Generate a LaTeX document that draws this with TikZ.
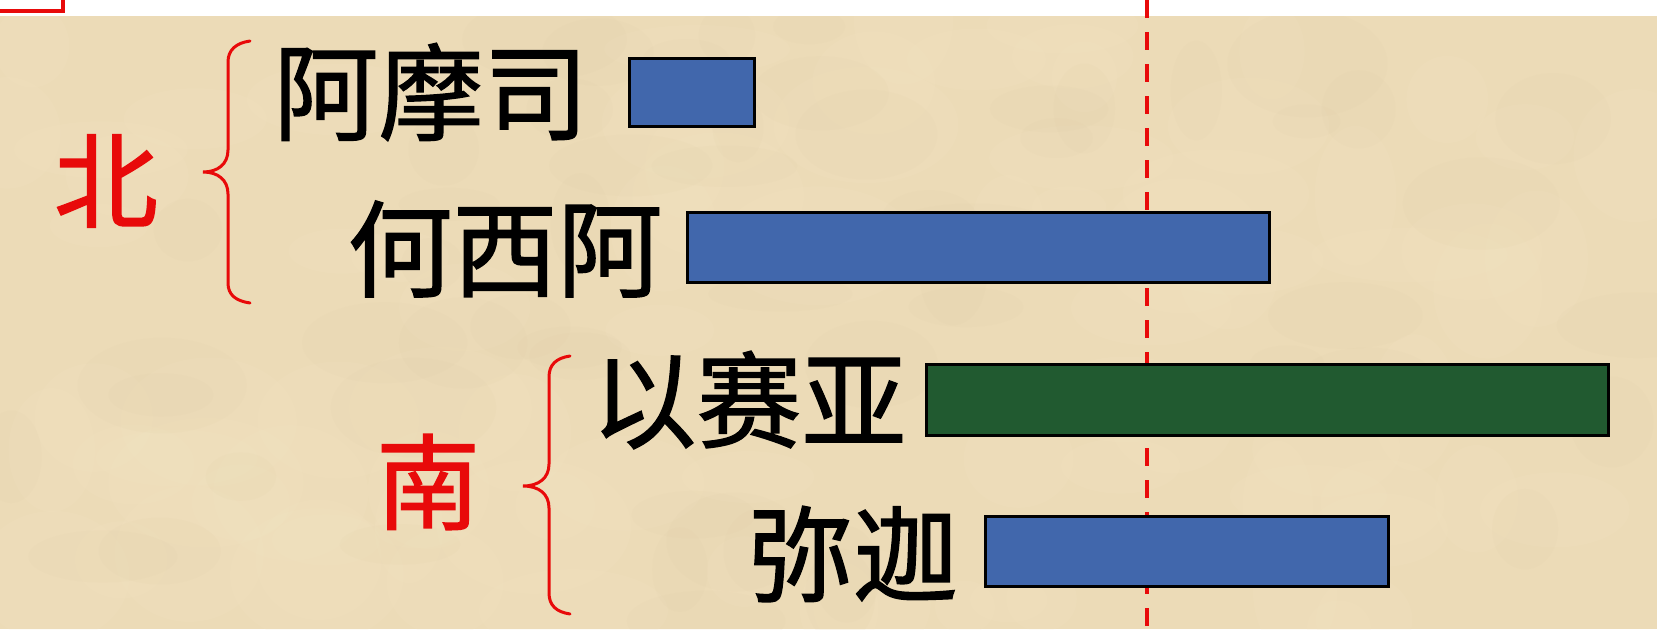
\documentclass[tikz,border=0pt]{standalone}
\usepackage{fontspec}
\newfontfamily\cjk[FakeBold=1.3]{Noto Sans CJK SC}
\definecolor{paper}{HTML}{ECDBB7}
\definecolor{paperlight}{HTML}{F6E8C8}
\definecolor{paperdark}{HTML}{DCC8A0}
\definecolor{barblue}{HTML}{4167AC}
\definecolor{bargreen}{HTML}{215A30}
\definecolor{redink}{HTML}{E80A0A}
\tikzset{
  barbox/.style={draw=black, line width=3pt, inner sep=0pt, outer sep=0pt},
  bluebar/.style={barbox, fill=barblue},
  greenbar/.style={barbox, fill=bargreen},
  kingtext/.style={inner sep=0pt, font=\cjk\fontsize{105}{105}\selectfont, text=black},
  regiontext/.style={inner sep=0pt, font=\cjk\fontsize{104}{104}\selectfont, text=redink},
  bracketline/.style={draw=redink, line width=3pt, line cap=round},
  guideline/.style={draw=redink, line width=3.5pt, dash pattern=on 18pt off 14pt}
}
\begin{document}
\begin{tikzpicture}[x=1pt, y=-1pt]
\useasboundingbox (0,0) rectangle (1665,635);
% background
\fill[white] (0,0) rectangle (1665,635);
\fill[paper] (0,16) rectangle (1657,629);
\begin{scope}
\clip (0,16) rectangle (1657,629);
\pgfmathsetseed{7}
\foreach \i in {1,...,90}{
  \pgfmathsetmacro{\px}{rnd*1657}
  \pgfmathsetmacro{\py}{16+rnd*613}
  \pgfmathsetmacro{\rx}{30+rnd*70}
  \pgfmathsetmacro{\ry}{20+rnd*50}
  \fill[paperlight, opacity=0.12] (\px,\py) ellipse [x radius=\rx, y radius=\ry];
}
\foreach \i in {1,...,60}{
  \pgfmathsetmacro{\px}{rnd*1657}
  \pgfmathsetmacro{\py}{16+rnd*613}
  \pgfmathsetmacro{\rx}{25+rnd*60}
  \pgfmathsetmacro{\ry}{15+rnd*40}
  \fill[paperdark, opacity=0.08] (\px,\py) ellipse [x radius=\rx, y radius=\ry];
}
\end{scope}
% red corner mark
\draw[draw=redink, line width=4.5pt] (0,11) -- (63,11) -- (63,-3);
% dashed reference line
\coordinate (gtop) at (1147,0);
\coordinate (gbot) at (1147,635);
\draw[guideline] (gtop) -- (gbot);
% bars
\node[bluebar, minimum width=125pt, minimum height=68pt] (b1) at (691.5,92.5) {};
\node[bluebar, minimum width=582pt, minimum height=70pt] (b2) at (978,247.5) {};
\node[greenbar, minimum width=682pt, minimum height=71pt] (b3) at (1267,400) {};
\node[bluebar, minimum width=403pt, minimum height=70pt] (b4) at (1186.5,551.5) {};
% names
\node[kingtext] (t1) at (431,92) {阿摩司};
\node[kingtext] (t2) at (505,249) {何西阿};
\node[kingtext] (t3) at (749,400) {以赛亚};
\node[kingtext] (t4) at (853,554) {弥迦};
% regions
\node[regiontext] (north) at (106,181) {北};
\node[regiontext] (south) at (428,482) {南};
% braces
\draw[bracketline] (250,41) .. controls (236,43) and (228,50) .. (228,62) -- (228,150)
  .. controls (228,164) and (218,172) .. (203,172)
  .. controls (218,172) and (228,180) .. (228,194) -- (228,283)
  .. controls (228,295) and (236,301) .. (250,303);
\draw[bracketline] (570,356) .. controls (556,358) and (549,365) .. (549,377) -- (549,464)
  .. controls (549,478) and (539,486) .. (523,486)
  .. controls (539,486) and (549,494) .. (549,508) -- (549,593)
  .. controls (549,605) and (556,612) .. (570,614);
\end{tikzpicture}
\end{document}
